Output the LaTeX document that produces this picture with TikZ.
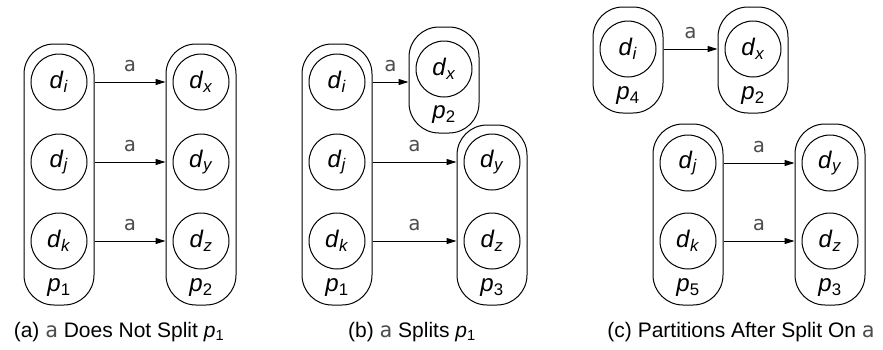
\documentclass[tikz,border=0pt]{standalone}
\usepackage{fontspec}
\setmainfont{Liberation Sans}
\newfontfamily\lblfont{DejaVu Sans Mono}
\usetikzlibrary{arrows.meta}
\newcommand\dd[1]{\textit{d}\textsubscript{\textit{#1}}}
\newcommand\pp[1]{\textit{p}\textsubscript{#1}}
\newcommand\syma{{\lblfont\color{black!70}a}}
\begin{document}
\begin{tikzpicture}[x=1pt,y=-1pt,
 elem/.style={draw,circle,line width=1pt,minimum size=56pt,inner sep=0pt,font=\fontsize{24}{28}\selectfont},
 partbox/.style={draw,rounded corners=30pt,line width=1pt,minimum width=70pt,inner sep=0pt},
 plbl/.style={font=\fontsize{24}{28}\selectfont,inner sep=0pt},
 trans/.style={-{Triangle[length=10pt,width=6pt]},line width=1pt},
 symlbl/.style={font=\lblfont\fontsize{20}{24}\selectfont,text=black!70,inner sep=0pt,yshift=16pt},
 captext/.style={font=\fontsize{21}{24}\selectfont,inner sep=0pt}]
\useasboundingbox (0,0) rectangle (883,349);

% ---------- (a)
\node[partbox,minimum height=261pt] (ap1) at (59,174.5) {};
\node[partbox,minimum height=261pt] (ap2) at (201,174.5) {};
\node[elem] (ai) at (59,82) {\dd{i}};
\node[elem] (aj) at (59,162) {\dd{j}};
\node[elem] (ak) at (59,241) {\dd{k}};
\node[elem] (ax) at (201,82) {\dd{x}};
\node[elem] (ay) at (201,162) {\dd{y}};
\node[elem] (az) at (201,241) {\dd{z}};
\node[plbl] (ap1l) at (59,288) {\pp{1}};
\node[plbl] (ap2l) at (201,288) {\pp{2}};
\draw[trans] (ai.center -| ap1.east) -- (ax.center -| ap2.west) node[symlbl,midway] (aa1) {a};
\draw[trans] (aj.center -| ap1.east) -- (ay.center -| ap2.west) node[symlbl,midway] (aa2) {a};
\draw[trans] (ak.center -| ap1.east) -- (az.center -| ap2.west) node[symlbl,midway] (aa3) {a};
\node[captext] (acap) at (119,332) {(a) \syma{} Does Not Split \pp{1}};

% ---------- (b)
\node[partbox,minimum height=261pt] (bp1) at (337,174.5) {};
\node[partbox,minimum height=106pt] (bp2) at (444,80) {};
\node[partbox,minimum height=180pt] (bp3) at (492,215) {};
\node[elem] (bi) at (337,82) {\dd{i}};
\node[elem] (bj) at (337,162) {\dd{j}};
\node[elem] (bk) at (337,241) {\dd{k}};
\node[elem] (bx) at (444,69) {\dd{x}};
\node[elem] (by) at (492,162) {\dd{y}};
\node[elem] (bz) at (492,241) {\dd{z}};
\node[plbl] (bp1l) at (337,288) {\pp{1}};
\node[plbl] (bp2l) at (444,115) {\pp{2}};
\node[plbl] (bp3l) at (492,288) {\pp{3}};
\draw[trans] (bi.center -| bp1.east) -- (bi.center -| bp2.west) node[symlbl,midway] (ba1) {a};
\draw[trans] (bj.center -| bp1.east) -- (by.center -| bp3.west) node[symlbl,midway] (ba2) {a};
\draw[trans] (bk.center -| bp1.east) -- (bz.center -| bp3.west) node[symlbl,midway] (ba3) {a};
\node[captext] (bcap) at (412,332) {(b) \syma{} Splits \pp{1}};

% ---------- (c)
\node[partbox,minimum height=106pt] (cp4) at (628,60) {};
\node[partbox,minimum height=106pt] (cp2) at (753,60) {};
\node[partbox,minimum height=181pt] (cp5) at (688,214.5) {};
\node[partbox,minimum height=181pt] (cp3) at (830,214.5) {};
\node[elem] (ci) at (628,49) {\dd{i}};
\node[elem] (cx) at (753,49) {\dd{x}};
\node[elem] (cj) at (688,163) {\dd{j}};
\node[elem] (ck) at (688,241) {\dd{k}};
\node[elem] (cy) at (830,163) {\dd{y}};
\node[elem] (cz) at (830,241) {\dd{z}};
\node[plbl] (cp4l) at (628,96) {\pp{4}};
\node[plbl] (cp2l) at (753,96) {\pp{2}};
\node[plbl] (cp5l) at (688,288) {\pp{5}};
\node[plbl] (cp3l) at (830,288) {\pp{3}};
\draw[trans] (ci.center -| cp4.east) -- (cx.center -| cp2.west) node[symlbl,midway] (ca1) {a};
\draw[trans] (cj.center -| cp5.east) -- (cy.center -| cp3.west) node[symlbl,midway] (ca2) {a};
\draw[trans] (ck.center -| cp5.east) -- (cz.center -| cp3.west) node[symlbl,midway] (ca3) {a};
\node[captext] (ccap) at (741,332) {(c) Partitions After Split On \syma};
\end{tikzpicture}
\end{document}
